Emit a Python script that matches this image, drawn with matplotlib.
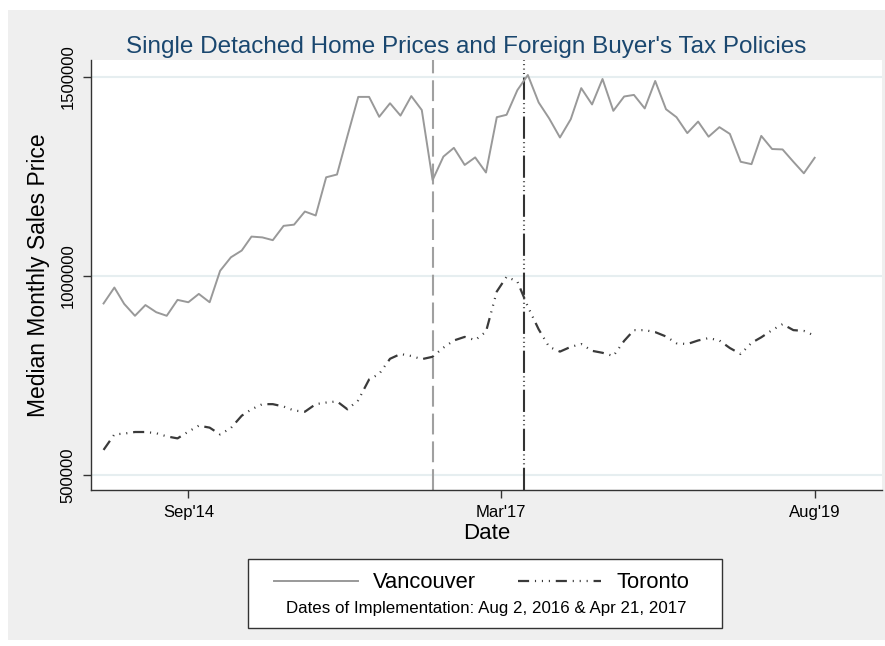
import matplotlib
matplotlib.use("Agg")
import matplotlib.pyplot as plt
import matplotlib.patches as mpatches
from matplotlib.lines import Line2D
import pandas as pd

plt.rcParams["font.family"] = ["Liberation Sans", "DejaVu Sans"]
plt.rcParams["lines.scale_dashes"] = False

# monthly medians, Jan 2014 .. Aug 2019
months = pd.date_range("2014-01-01", "2019-08-01", freq="MS")

vancouver = [
    931000, 971000, 930000, 900000, 927000, 909000, 900000, 940000, 934000, 955000,
    934000, 1013000, 1047000, 1064000, 1099000, 1097000, 1090000, 1126000, 1129000, 1162000,
    1152000, 1248000, 1255000, 1352000, 1450000, 1450000, 1400000, 1434000, 1403000, 1452000,
    1417000, 1241000, 1300000, 1322000, 1279000, 1298000, 1260000, 1399000, 1405000, 1467000,
    1505000, 1436000, 1396000, 1348000, 1394000, 1472000, 1431000, 1495000, 1415000, 1451000,
    1455000, 1421000, 1490000, 1419000, 1399000, 1359000, 1388000, 1350000, 1374000, 1357000,
    1287000, 1281000, 1352000, 1319000, 1318000, 1287000, 1258000, 1297000,
]
toronto = [
    563000, 602000, 604000, 608000, 608000, 605000, 597000, 592000, 609000, 624000,
    619000, 602000, 618000, 649000, 665000, 678000, 678000, 672000, 662000, 659000,
    678000, 682000, 685000, 665000, 688000, 740000, 754000, 792000, 804000, 799000,
    791000, 797000, 820000, 838000, 847000, 839000, 860000, 961000, 998000, 986000,
    923000, 866000, 822000, 810000, 822000, 829000, 812000, 807000, 799000, 837000,
    864000, 864000, 859000, 848000, 831000, 829000, 838000, 844000, 838000, 819000,
    804000, 832000, 846000, 864000, 879000, 864000, 862000, 850000,
]

policy_dates = [pd.Timestamp("2016-08-02"), pd.Timestamp("2017-04-21")]
xtick_dates = [pd.Timestamp("2014-09-01"), pd.Timestamp("2017-02-13"), pd.Timestamp("2019-08-01")]
xtick_labels = ["Sep'14", "Mar'17", "Aug'19"]
ytick_vals = [500000, 1000000, 1500000]

NAVY = "#1a476f"
BG = "#efefef"
TORONTO_DASH = (0, (8, 4.2, 0.8, 4.2, 0.8, 4.2, 0.8, 4.2))

fig = plt.figure(figsize=(8.85, 6.46), dpi=100)
fig.patch.set_facecolor("white")
fig.patches.append(mpatches.Rectangle((8 / 885, 6 / 646), 877 / 885, 630 / 646,
                                      transform=fig.transFigure, facecolor=BG,
                                      edgecolor="none", zorder=-10))

ax = fig.add_axes([91 / 885, 156 / 646, 791 / 885, 430 / 646])
ax.set_facecolor("white")

ax.plot(months, vancouver, color="#999999", lw=1.4, label="Vancouver", zorder=3)
ax.plot(months, toronto, color="#3a3a3a", lw=1.6, linestyle=TORONTO_DASH,
        label="Toronto", zorder=3)

ax.axvline(policy_dates[0], color="#a0a0a0", lw=1.5, linestyle=(0, (15, 5)), zorder=2)
ax.axvline(policy_dates[1], color="#333333", lw=1.5,
           linestyle=(0, (16, 2.5, 0.7, 2.5, 0.7, 2.5, 0.7, 2.5)), zorder=2)

ax.set_xlim(pd.Timestamp("2013-11-26"), pd.Timestamp("2020-02-10"))
ax.set_ylim(462300, 1542700)

ax.set_xticks(xtick_dates)
ax.set_xticklabels(xtick_labels, fontsize=12)
ax.set_yticks(ytick_vals)
ax.set_yticklabels([str(v) for v in ytick_vals], fontsize=12, rotation=90, va="center")
ax.tick_params(axis="both", length=6, width=1, color="#333333", pad=5)

ax.yaxis.grid(True, color="#e6eef0", lw=1.5, zorder=0)
ax.set_axisbelow(True)
for side in ("top", "right"):
    ax.spines[side].set_visible(False)
for side in ("left", "bottom"):
    ax.spines[side].set_color("#333333")
    ax.spines[side].set_linewidth(1.0)

ax.set_xlabel("Date", fontsize=16, labelpad=2)
ax.set_ylabel("Median Monthly Sales Price", fontsize=16.5, labelpad=8)
fig.text(466 / 885, 1 - 47 / 646, "Single Detached Home Prices and Foreign Buyer's Tax Policies",
         ha="center", va="center", fontsize=17.5, color=NAVY)

# legend box below the plot
fig.patches.append(mpatches.Rectangle((248 / 885, 18 / 646), 474 / 885, 69 / 646,
                                      transform=fig.transFigure, facecolor="white",
                                      edgecolor="#333333", lw=1.0, zorder=1))
handles = [Line2D([], [], color="#999999", lw=1.4),
           Line2D([], [], color="#3a3a3a", lw=1.6, linestyle=TORONTO_DASH)]
fig.legend(handles, ["Vancouver", "Toronto"], loc="center",
           bbox_to_anchor=(482 / 885, 1 - 583 / 646), ncol=2, frameon=False,
           fontsize=15.8, handlelength=3.8, handletextpad=0.7, columnspacing=1.9)
fig.text(486 / 885, 1 - 609 / 646, "Dates of Implementation: Aug 2, 2016 & Apr 21, 2017",
         ha="center", va="center", fontsize=12.2)

fig.savefig("out.png", dpi=100)
